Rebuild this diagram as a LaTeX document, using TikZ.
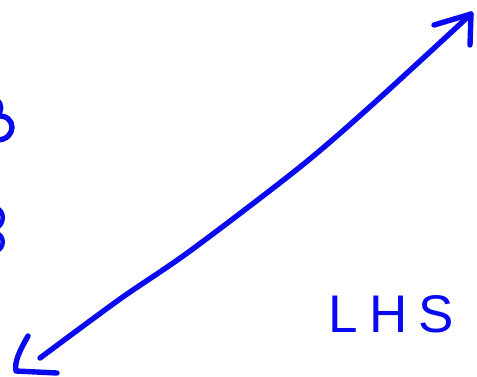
\documentclass[tikz,border=0pt]{standalone}
\usepackage{fontspec}
\setmainfont{Liberation Sans}
\definecolor{ink}{RGB}{10,10,240}
\begin{document}
\begin{tikzpicture}[x=1pt,y=-1pt,
  pen/.style={draw=ink,line width=5.4pt,line cap=round,line join=round},
  label/.style={text=ink,inner sep=0pt,font=\fontsize{53}{60}\selectfont}]
\useasboundingbox (0,0) rectangle (477,376);
% endpoints of the double-headed arrow
\coordinate (lo) at (40,358);
\coordinate (hi) at (471,14);
\coordinate (loA) at (28,336);
\coordinate (loB) at (16,371);
\coordinate (loC) at (57,373);
\coordinate (hiA) at (434,25);
\coordinate (hiB) at (470,45);
% main stroke
\draw[pen] plot[smooth,tension=0.5] coordinates {(lo) (120,299) (190,251) (300,167) (373,104) (hi)};
% arrowheads
\draw[pen] (hiA) -- (hi) -- (hiB);
\draw[pen] (loA) .. controls (20,350) and (14,362) .. (loB) -- (loC);
% partial strokes cut off at the left edge
\draw[pen] (-3,100) .. controls (2,104) and (2,112) .. (-3,115);
\draw[pen] (-3,116) .. controls (17,114) and (17,140) .. (-3,140);
\draw[pen,line width=4.5pt] (-4,208) .. controls (5,210) and (5,225) .. (-4,228);
\draw[pen,line width=4.5pt] (-4,233) .. controls (5,235) and (5,249) .. (-4,251);
% text
\node[label] (lhs) at (391,314) {L\kern12ptH\kern10ptS};
\end{tikzpicture}
\end{document}
